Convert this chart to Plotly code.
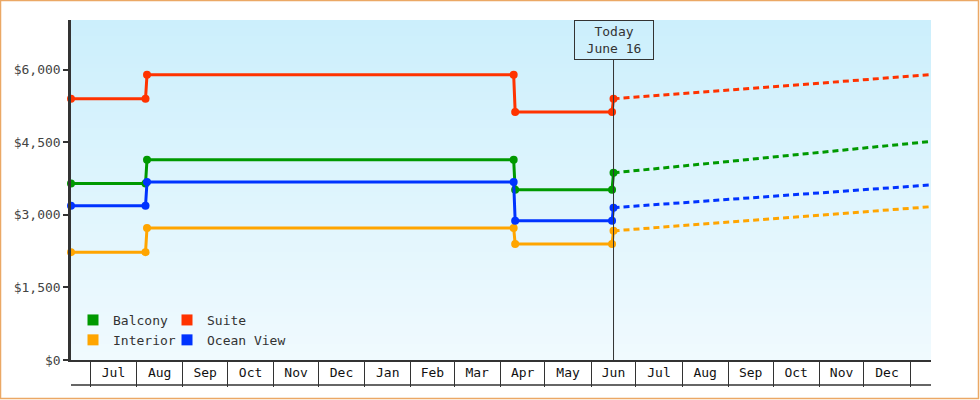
import plotly.graph_objects as go

# ---- data ----
series_names = ["Balcony", "Interior", "Suite", "Ocean View"]
series_colors = ["#009900", "#FFA500", "#FF3300", "#0033FF"]

hist_dates = ["2023-06-18", "2023-08-07", "2023-08-08", "2024-04-10", "2024-04-11", "2024-06-15", "2024-06-16"]
balcony_hist = [3650, 3650, 4140, 4140, 3520, 3520, 3870]
interior_hist = [2230, 2230, 2730, 2730, 2400, 2400, 2670]
suite_hist = [5400, 5400, 5900, 5900, 5130, 5130, 5400]
ocean_hist = [3190, 3190, 3680, 3680, 2880, 2880, 3150]

proj_dates = ["2024-06-16", "2025-01-15"]
balcony_proj = [3870, 4520]
interior_proj = [2670, 3170]
suite_proj = [5400, 5900]
ocean_proj = [3150, 3620]

today = "2024-06-16"
today_label = "Today<br>June 16"
x_range = ["2023-06-18", "2025-01-15"]
y_ticks = [0, 1500, 3000, 4500, 6000]

hist = [balcony_hist, interior_hist, suite_hist, ocean_hist]
proj = [balcony_proj, interior_proj, suite_proj, ocean_proj]

FONT = "DejaVu Sans Mono"
W, H = 980, 400
ML, MR, MT, MB = 71, 49, 20, 40
PW, PH = W - ML - MR, H - MT - MB

fig = go.Figure()

for name, color, h, p in zip(series_names, series_colors, hist, proj):
    fig.add_trace(go.Scatter(
        x=hist_dates, y=h, mode="lines+markers", name=name, showlegend=False,
        line=dict(color=color, width=3), marker=dict(color=color, size=8),
        cliponaxis=False, hoverinfo="skip"))
    fig.add_trace(go.Scatter(
        x=proj_dates, y=p, mode="lines", name=name, showlegend=False,
        line=dict(color=color, width=3, dash="6px,4px"), hoverinfo="skip"))

# legend entries (two columns)
for name, color, lg in zip(series_names, series_colors, ["legend", "legend", "legend2", "legend2"]):
    fig.add_trace(go.Scatter(
        x=[None], y=[None], mode="markers", name=name, legend=lg,
        marker=dict(symbol="square", size=11, color=color)))

# gradient background bands
top = (204, 239, 252)
bot = (240, 250, 254)
n = 85
shapes = []
for i in range(n):
    t = i / (n - 1)
    c = tuple(round(top[k] + (bot[k] - top[k]) * t) for k in range(3))
    shapes.append(dict(type="rect", xref="x domain", yref="y domain", layer="below",
                       x0=0, x1=1, y0=1 - (i + 1) / n, y1=1 - i / n,
                       line=dict(width=0), fillcolor="rgb(%d,%d,%d)" % c))

# today vertical line
box_h = 40
shapes.append(dict(type="line", xref="x", yref="y domain", x0=today, x1=today,
                   y0=0, y1=1 - box_h / PH, line=dict(color="#333333", width=1), layer="above"))
# bottom line of x label band
shapes.append(dict(type="line", xref="x domain", yref="paper", x0=0, x1=1,
                   y0=-25 / PH, y1=-25 / PH, line=dict(color="#333333", width=1.5)))
# outer border
shapes.append(dict(type="rect", xref="paper", yref="paper",
                   x0=-(ML - 0.5) / PW, x1=1 + (MR - 1.5) / PW,
                   y0=-(MB - 1.5) / PH, y1=1 + (MT - 0.5) / PH,
                   line=dict(color="#EBA865", width=1.5), fillcolor="rgba(0,0,0,0)"))

leg_font = dict(family=FONT, size=13, color="#333333")
fig.update_layout(
    width=W, height=H,
    margin=dict(l=ML, r=MR, t=MT, b=MB),
    paper_bgcolor="white", plot_bgcolor="rgb(240,250,254)",
    font=dict(family=FONT, size=13, color="#333333"),
    shapes=shapes,
    legend=dict(x=(73 - ML) / PW, y=(360 - 305) / PH, xanchor="left", yanchor="top",
                bgcolor="rgba(0,0,0,0)", tracegroupgap=0, itemwidth=30, font=leg_font),
    legend2=dict(x=(167 - ML) / PW, y=(360 - 305) / PH, xanchor="left", yanchor="top",
                 bgcolor="rgba(0,0,0,0)", tracegroupgap=0, itemwidth=30, font=leg_font),
    annotations=[dict(xref="x", yref="paper", x=today, y=1, yanchor="top", xanchor="center",
                      text=today_label, showarrow=False, bordercolor="#333333", borderwidth=1,
                      borderpad=3, width=72, height=32, bgcolor="rgba(0,0,0,0)",
                      font=dict(family=FONT, size=13, color="#333333"))],
    showlegend=True,
)

fig.update_xaxes(
    type="date", range=x_range, showgrid=False, zeroline=False,
    showline=True, linecolor="#333333", linewidth=1.5,
    tick0="2023-07-01", dtick="M1", tickformat="%b", ticklabelmode="period",
    ticks="outside", ticklen=25, tickcolor="#333333", tickwidth=1,
    ticklabelstandoff=-25, tickfont=dict(family=FONT, size=13, color="#111111"),
)
fig.update_yaxes(
    range=[0, 7030], tickvals=y_ticks, tickformat="$,d",
    showgrid=False, zeroline=False, showline=True, linecolor="#333333", linewidth=2.5,
    ticks="outside", ticklen=5, tickwidth=2, tickcolor="#333333",
    tickfont=dict(family=FONT, size=13, color="#444444"),
)

fig.write_html("out.html", config={"displayModeBar": False},
               post_script="document.body.style.margin='0';document.body.style.overflow='hidden';")
